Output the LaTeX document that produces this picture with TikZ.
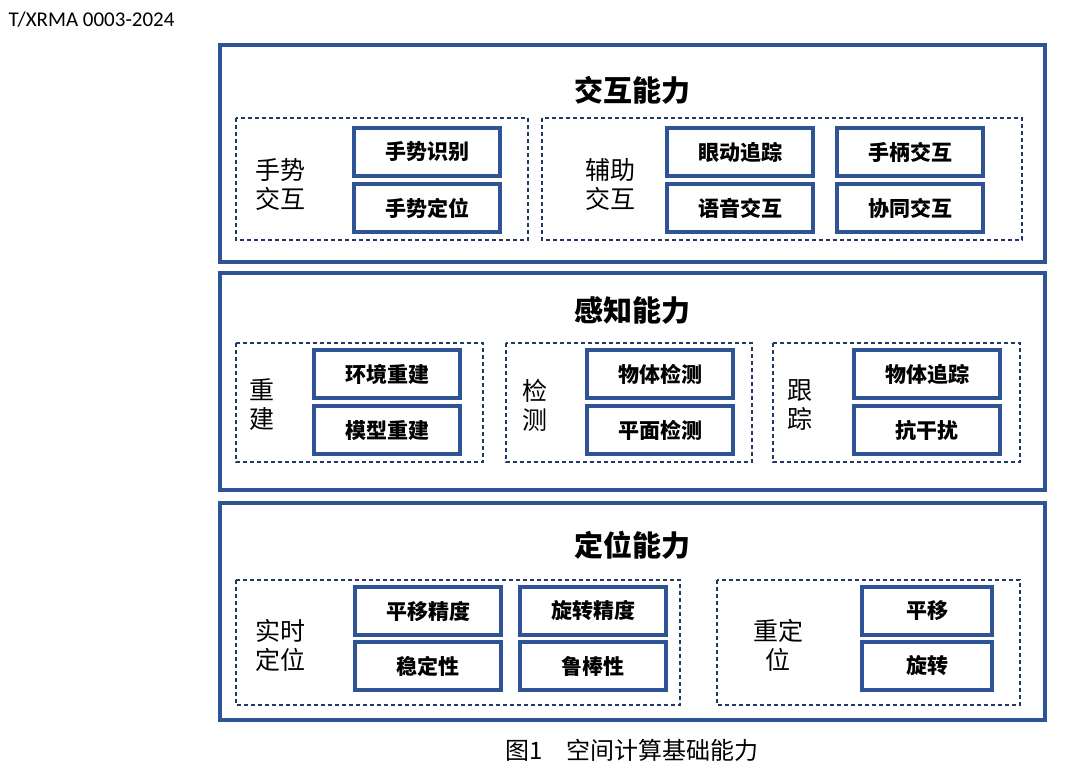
\documentclass[tikz,border=0pt]{standalone}
\usepackage{fontspec}
\setmainfont{Noto Sans CJK SC}
\newfontfamily\latinfont{Carlito}
\definecolor{frameblue}{RGB}{47,84,150}
\definecolor{dashblue}{RGB}{31,56,100}
\tikzset{
  panel/.style={draw=frameblue,line width=4pt},
  group/.style={draw=dashblue,dashed,line width=1.5pt,dash pattern=on 4pt off 3pt},
  item/.style={draw=frameblue,line width=3.5pt,fill=white,minimum width=146pt,minimum height=48pt,
    font=\fontsize{21}{24}\selectfont\bfseries},
  heading/.style={font=\fontsize{29}{32}\selectfont\bfseries},
  side/.style={font=\fontsize{25}{29}\selectfont,align=center}
}
\begin{document}
\begin{tikzpicture}[x=1pt,y=-1pt]
  \useasboundingbox (0,0) rectangle (1080,780);
  \node[anchor=west,font=\latinfont\fontsize{21}{24}\selectfont] (std) at (5,20) {T/XRMA 0003-2024};

  % interaction
  \draw[panel] (220,45) rectangle (1045,262);
  \node[heading] (t1) at (632,90) {交互能力};
  \draw[group] (236,118) rectangle (528,240);
  \node[side] (l1) at (280,185) {手势\\交互};
  \node[item] (b11) at (427,152) {手势识别};
  \node[item] (b12) at (427,208) {手势定位};
  \draw[group] (542,118) rectangle (1022,240);
  \node[side] (l2) at (610,185) {辅助\\交互};
  \node[item] (b21) at (740,152) {眼动追踪};
  \node[item] (b22) at (910,152) {手柄交互};
  \node[item] (b23) at (740,208) {语音交互};
  \node[item] (b24) at (910,208) {协同交互};

  % perception
  \draw[panel] (220,273) rectangle (1045,490);
  \node[heading] (t2) at (632,310) {感知能力};
  \draw[group] (236,343) rectangle (483,462);
  \node[side] (l3) at (262,405) {重\\建};
  \node[item] (b31) at (387,374) {环境重建};
  \node[item] (b32) at (387,430) {模型重建};
  \draw[group] (506,343) rectangle (752,462);
  \node[side] (l4) at (535,405) {检\\测};
  \node[item] (b41) at (660,374) {物体检测};
  \node[item] (b42) at (660,430) {平面检测};
  \draw[group] (773,343) rectangle (1020,462);
  \node[side] (l5) at (800,405) {跟\\踪};
  \node[item] (b51) at (927,374) {物体追踪};
  \node[item] (b52) at (927,430) {抗干扰};

  % localisation
  \draw[panel] (220,503) rectangle (1045,720);
  \node[heading] (t3) at (632,545) {定位能力};
  \draw[group] (236,580) rectangle (680,705);
  \node[side] (l6) at (280,645) {实时\\定位};
  \node[item] (b61) at (428,611) {平移精度};
  \node[item] (b62) at (593,611) {旋转精度};
  \node[item] (b63) at (428,666) {稳定性};
  \node[item] (b64) at (593,666) {鲁棒性};
  \draw[group] (717,580) rectangle (1020,705);
  \node[side] (l7) at (778,645) {重定\\位};
  \node[item,minimum width=130pt] (b71) at (927,611) {平移};
  \node[item,minimum width=130pt] (b72) at (927,666) {旋转};

  \node[font=\fontsize{24}{28}\selectfont] (cap) at (632,750) {图1\quad 空间计算基础能力};
\end{tikzpicture}
\end{document}
